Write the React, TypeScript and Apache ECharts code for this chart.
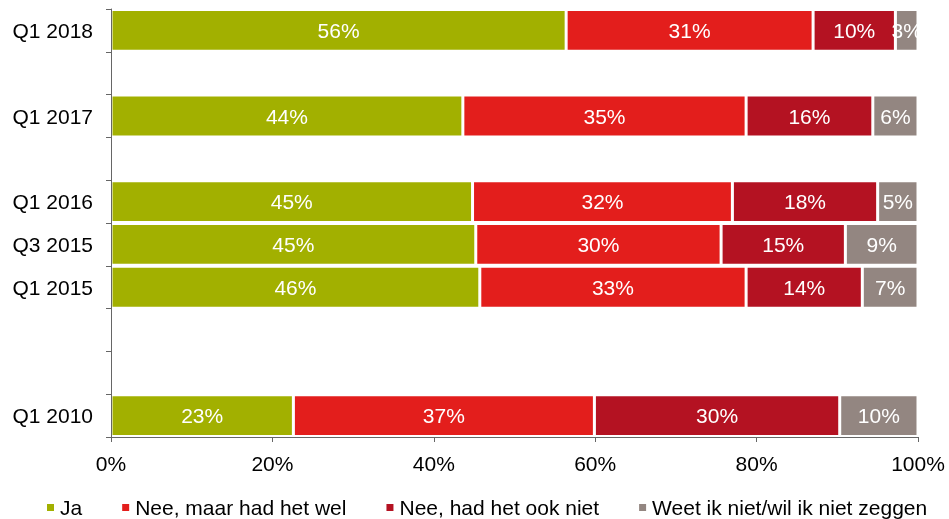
import React, { useEffect, useRef } from "react";
import * as echarts from "echarts";

const categories = ["Q1 2018", "gap1", "Q1 2017", "gap2", "Q1 2016", "Q3 2015", "Q1 2015", "gap3", "gap4", "Q1 2010"];
const seriesNames = ["Ja", "Nee, maar had het wel", "Nee, had het ook niet", "Weet ik niet/wil ik niet zeggen"];
const ja = [56.4, null, 43.6, null, 44.8, 45.2, 45.7, null, null, 22.6];
const neeMaar = [30.6, null, 35.1, null, 32.2, 30.4, 33.0, null, null, 37.3];
const neeOok = [10.2, null, 15.7, null, 18.0, 15.4, 14.4, null, null, 30.4];
const weetNiet = [2.8, null, 5.6, null, 5.0, 9.0, 6.9, null, null, 9.7];
const xTicks = { min: 0, max: 100, interval: 20 };
const colors = ["#A2B000", "#E31E1C", "#B41222", "#938681"];

const FONT = "'Liberation Sans', Arial, sans-serif";
const AXIS = "#666666";

export default function App() {
  const ref = useRef<HTMLDivElement>(null);
  useEffect(() => {
    if (!ref.current) return;
    const chart = echarts.init(ref.current, undefined, { renderer: "svg" });
    const values = [ja, neeMaar, neeOok, weetNiet];
    chart.setOption({
      animation: false,
      textStyle: { fontFamily: FONT },
      grid: { left: 111, right: 31, top: 9, bottom: 82, containLabel: false },
      legend: {
        data: seriesNames,
        left: 40,
        top: 492,
        itemWidth: 9,
        itemHeight: 9,
        itemGap: 38,
        icon: "rect",
        textStyle: { fontSize: 21, color: "#000", fontFamily: FONT },
      },
      xAxis: {
        type: "value",
        min: xTicks.min,
        max: xTicks.max,
        interval: xTicks.interval,
        z: 5,
        axisLine: { show: true, lineStyle: { color: AXIS, width: 1 } },
        axisTick: { show: true, length: 5, lineStyle: { color: AXIS } },
        splitLine: { show: false },
        axisLabel: { formatter: "{value}%", fontSize: 21, color: "#000", margin: 16, fontFamily: FONT },
      },
      yAxis: {
        type: "category",
        inverse: true,
        data: categories,
        z: 5,
        axisLine: { show: true, lineStyle: { color: AXIS, width: 1 } },
        axisTick: { show: true, length: 5, lineStyle: { color: AXIS } },
        axisLabel: {
          fontSize: 21,
          color: "#000",
          margin: 18,
          fontFamily: FONT,
          formatter: (v: string) => (v.startsWith("gap") ? "" : v),
        },
      },
      series: seriesNames.map((name, i) => ({
        name,
        type: "bar",
        stack: "total",
        barCategoryGap: "2%",
        data: values[i],
        itemStyle: { color: colors[i], borderColor: "#fff", borderWidth: 1.5 },
        label: {
          show: true,
          position: "inside",
          color: "#fff",
          fontSize: 21,
          fontFamily: FONT,
          formatter: (p: any) => (p.value == null ? "" : Math.round(p.value) + "%"),
        },
      })),
    });
    return () => chart.dispose();
  }, []);
  return <div ref={ref} style={{ position: "fixed", left: 0, top: 0, width: 949, height: 519 }} />;
}
